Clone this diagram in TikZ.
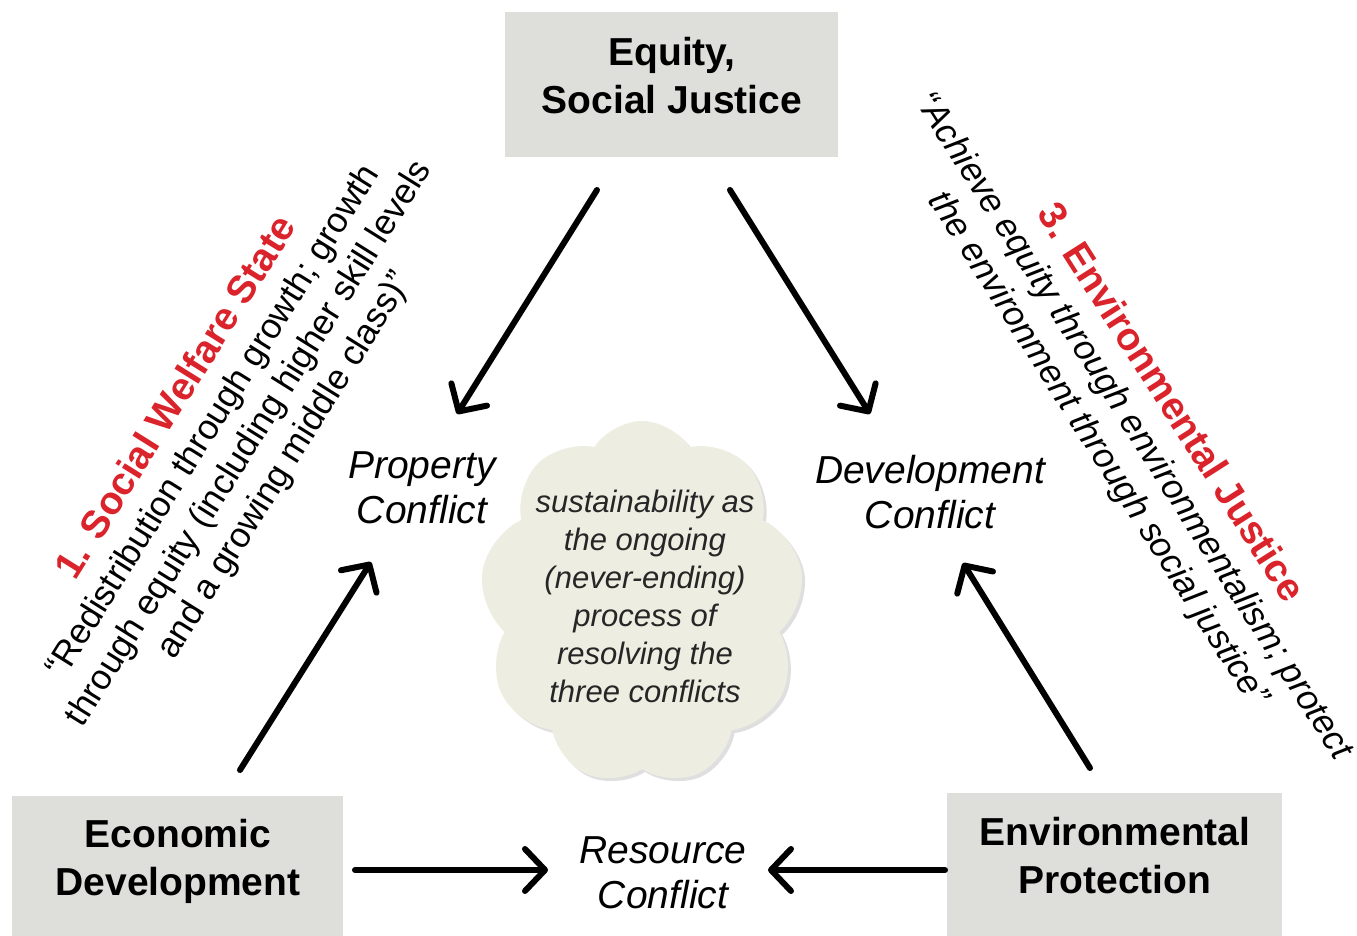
\documentclass[tikz,border=0pt]{standalone}
\usepackage{fontspec}
\setmainfont{Liberation Sans}
\usetikzlibrary{arrows.meta,shapes.symbols,shadows}
\definecolor{boxgray}{RGB}{222,222,218}
\definecolor{cloudfill}{RGB}{237,238,225}
\definecolor{titlered}{RGB}{218,35,42}
\begin{document}
\begin{tikzpicture}[x=0.5pt,y=-0.5pt,
  pillar/.style={fill=boxgray, draw=none},
  pillartext/.style={align=center, font=\fontsize{19.5}{24}\selectfont\bfseries, inner sep=0pt},
  conflict/.style={align=center, font=\fontsize{19.5}{22.5}\selectfont\itshape, inner sep=0pt},
  quoteblock/.style={align=center, font=\fontsize{17.6}{21}\selectfont, inner sep=0pt},
  thickarrow/.style={line width=3pt, line cap=round, line join=round,
    -{Straight Barb[length=10pt,width=21pt,line cap=round,line join=round]}},
]
\useasboundingbox (0,0) rectangle (1357,936);
\fill[white] (0,0) rectangle (1357,936);

% pillar boxes
\path[pillar] (505,12) rectangle (838,157);
\path[pillar] (12,796) rectangle (343,936);
\path[pillar] (947,793) rectangle (1282,936);

\node[pillartext] (equity) at (672,76) {Equity,\\Social Justice};
\node[pillartext] (econ) at (178,861) {Economic\\Development};
\node[pillartext] (envp) at (1115,856) {Environmental\\Protection};

% conflicts
\node[conflict] (prop) at (422,488) {Property\\Conflict};
\node[conflict] (devc) at (930,492) {Development\\Conflict};
\node[conflict] (resc) at (663,873) {Resource\\Conflict};

% cloud
\node[cloud, cloud puffs=9, cloud puff arc=115, cloud ignores aspect, fill=cloudfill,
  minimum width=162pt, minimum height=182pt, inner sep=0pt,
  drop shadow={opacity=0.25, shadow xshift=1.5pt, shadow yshift=-1.5pt}] (cloud) at (642,603) {};
\node[align=center, font=\fontsize{15.5}{19}\selectfont\itshape, text=black!85, inner sep=0pt] (cloudtxt) at (645,596)
  {sustainability as\\ the ongoing\\ (never-ending)\\ process of\\ resolving the\\ three conflicts};

% rotated blocks
\node[quoteblock, rotate=58] (sws) at (231,432)
  {{\color{titlered}\fontsize{19.5}{21}\selectfont\bfseries 1. Social Welfare State}\\
   “Redistribution through growth; growth\\
   through equity (including higher skill levels\\
   and a growing middle class)”};
\node[quoteblock, rotate=-57.5, font=\fontsize{17.6}{21}\selectfont\itshape] (ej) at (1134,426)
  {{\color{titlered}\fontsize{19.5}{21}\selectfont\bfseries\upshape 3. Environmental Justice}\\
   “Achieve equity through environmentalism; protect\\
   the environment through social justice”};

% arrow end points
\coordinate (a1s) at (597,190); \coordinate (a1e) at (457,414);
\coordinate (a2s) at (730,190); \coordinate (a2e) at (870,414);
\coordinate (a3s) at (240,770); \coordinate (a3e) at (371,562);
\coordinate (a4s) at (1090,768); \coordinate (a4e) at (963,563);
\coordinate (a5s) at (355,870); \coordinate (a5e) at (548,870);
\coordinate (a6s) at (945,870); \coordinate (a6e) at (768,870);

\draw[thickarrow] (a1s) -- (a1e);
\draw[thickarrow] (a2s) -- (a2e);
\draw[thickarrow] (a3s) -- (a3e);
\draw[thickarrow] (a4s) -- (a4e);
\draw[thickarrow] (a5s) -- (a5e);
\draw[thickarrow] (a6s) -- (a6e);
\end{tikzpicture}
\end{document}
